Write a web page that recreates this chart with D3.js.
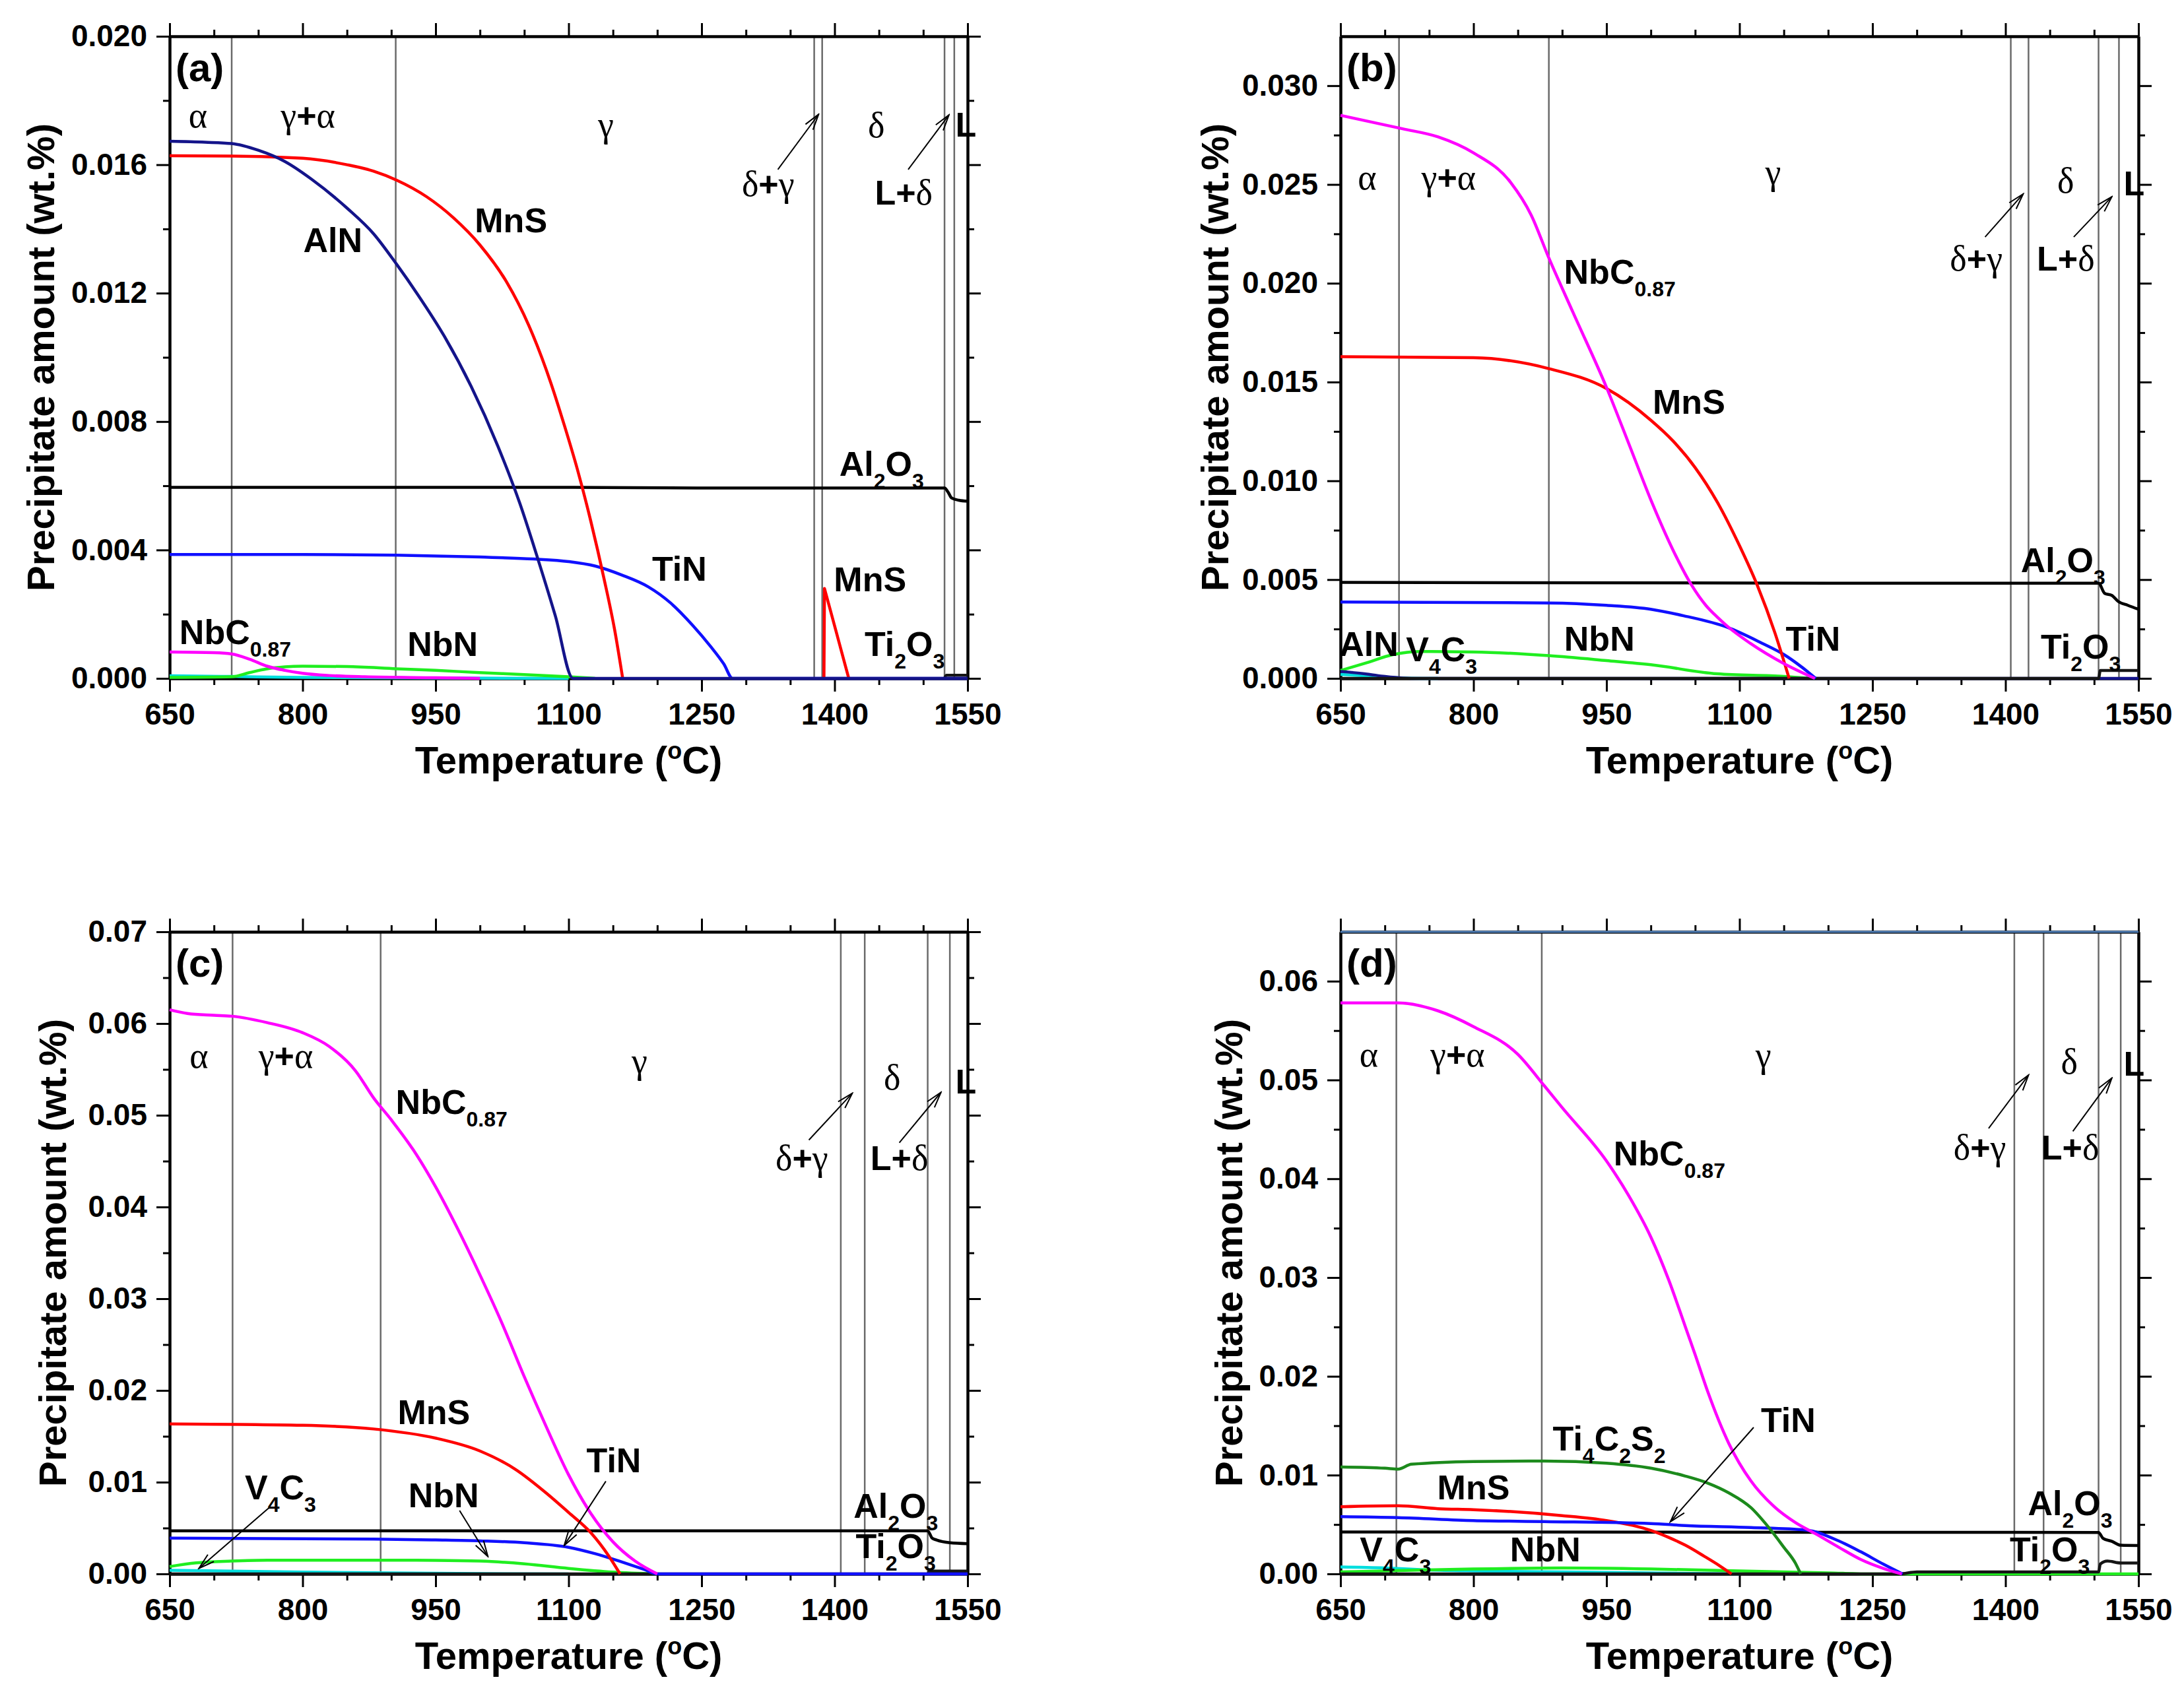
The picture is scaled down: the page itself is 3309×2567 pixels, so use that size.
<!DOCTYPE html>
<html>
<head>
<meta charset="utf-8">
<script src="https://cdnjs.cloudflare.com/ajax/libs/d3/7.8.5/d3.min.js"></script>
<style>
  body { margin: 0; background: #fff; }
  svg { display: block; }
</style>
</head>
<body>
<div id="chart"></div>
<script>
// ---- axis ticks ----
const xMajor = [650, 800, 950, 1100, 1250, 1400, 1550];
const xMinor = [700, 750, 850, 900, 1000, 1050, 1150, 1200, 1300, 1350, 1450, 1500];
const aYTicks = [0, 0.004, 0.008, 0.012, 0.016, 0.020];
const aYMinor = [0.002, 0.006, 0.010, 0.014, 0.018];
const bYTicks = [0, 0.005, 0.010, 0.015, 0.020, 0.025, 0.030];
const bYMinor = [0.0025, 0.0075, 0.0125, 0.0175, 0.0225, 0.0275];
const cYTicks = [0, 0.01, 0.02, 0.03, 0.04, 0.05, 0.06, 0.07];
const cYMinor = [0.005, 0.015, 0.025, 0.035, 0.045, 0.055, 0.065];
const dYTicks = [0, 0.01, 0.02, 0.03, 0.04, 0.05, 0.06];
const dYMinor = [0.005, 0.015, 0.025, 0.035, 0.045, 0.055];

// ---- phase boundaries (°C) ----
const aPhase = [720, 905, 1377, 1386, 1524, 1535];
const bPhase = [716, 885, 1406, 1426, 1505, 1528];
const cPhase = [721, 888, 1407, 1434, 1505, 1530];
const dPhase = [713, 877, 1410, 1443, 1505, 1530];

// ---- panel (a) ----
const aAlN = [[650,0.01673],[690,0.01670],[720,0.01666],[750,0.01645],[780,0.01610],[810,0.01555],[850,0.01465],[880,0.01385],[906,0.01290],[930,0.01195],[960,0.01065],[990,0.00910],[1020,0.00725],[1045,0.00545],[1065,0.00375],[1085,0.00195],[1105,0],[1550,0]];
const aMnS = [[650,0.01628],[720,0.01627],[800,0.01620],[850,0.01600],[880,0.01580],[906,0.01552],[940,0.01500],[970,0.01435],[1000,0.01350],[1030,0.01235],[1055,0.01100],[1080,0.00920],[1095,0.00790],[1110,0.00650],[1125,0.00490],[1140,0.00310],[1152,0.00150],[1161,0]];
const aMnS2 = [[1388,0],[1388.6,0.0028],[1416,0]];
const aTiN = [[650,0.00386],[800,0.00386],[906,0.00384],[1000,0.00378],[1060,0.00372],[1100,0.00364],[1130,0.00350],[1160,0.00322],[1190,0.00285],[1215,0.00235],[1240,0.00165],[1260,0.00100],[1275,0.00045],[1285,0],[1550,0]];
const aAl2O3 = [[650,0.00595],[1100,0.00595],[1250,0.00593],[1524,0.00593],[1528,0.00580],[1532,0.00562],[1540,0.00555],[1550,0.00552]];
const aNbC = [[650,0.00082],[700,0.00080],[720,0.00076],[740,0.00060],[760,0.00038],[780,0.00025],[800,0.00016],[830,0.00009],[870,0.00005],[950,0.00002],[1000,0]];
const aNbN = [[650,0.00003],[720,0.00005],[740,0.00018],[760,0.00030],[780,0.00036],[800,0.00038],[850,0.00037],[906,0.00030],[950,0.00025],[1000,0.00018],[1050,0.00012],[1100,0.00005],[1130,0]];
const aV4C3 = [[650,0.00008],[720,0.00006],[800,0.00003],[1100,0]];
const aTi2O3 = [[1524,0],[1526,0.0001],[1550,0.0001]];

// ---- panel (b) ----
const bNbC = [[650,0.0285],[720,0.02782],[760,0.02741],[800,0.0266],[842,0.0251],[865,0.02346],[885,0.02128],[912,0.01855],[950,0.01473],[975,0.0119],[1000,0.00904],[1025,0.00650],[1046,0.00472],[1062,0.00370],[1075,0.00310],[1086,0.00265],[1112,0.00178],[1150,0.00075],[1185,0]];
const bMnS = [[650,0.01628],[800,0.01623],[885,0.01568],[950,0.01467],[1000,0.01307],[1025,0.01202],[1050,0.01067],[1075,0.00892],[1100,0.00672],[1120,0.00472],[1140,0.00230],[1156,0]];
const bTiN = [[650,0.00387],[885,0.00382],[950,0.00370],[1000,0.0035],[1037,0.00317],[1086,0.00259],[1125,0.00179],[1150,0.00121],[1170,0.00058],[1186,0]];
const bAl2O3 = [[650,0.00486],[1200,0.00482],[1505,0.00482],[1512,0.0043],[1520,0.0042],[1527,0.0039],[1538,0.0037],[1550,0.0035]];
const bTi2O3 = [[650,0],[1505,0],[1507,0.0004],[1550,0.0004]];
const bNbN = [[650,0.0004],[680,0.0008],[709,0.0012],[740,0.00136],[800,0.00134],[885,0.00115],[950,0.0009],[1000,0.00069],[1075,0.00023],[1150,0.0001],[1180,0]];
const bAlN = [[650,0.00035],[680,0.00022],[700,0.0001],[720,0.00002],[740,0],[1550,0]];
const bV4C3 = [[650,0.0002],[690,0.0001],[720,0.00002],[760,0]];

// ---- panel (c) ----
const cNbC = [[650,0.0615],[670,0.0611],[700,0.0609],[720,0.0608],[760,0.0601],[800,0.0590],[830,0.0575],[860,0.0548],[880,0.0519],[900,0.0495],[925,0.0462],[950,0.0422],[975,0.0376],[1000,0.0326],[1025,0.0273],[1050,0.0215],[1075,0.0160],[1100,0.0108],[1125,0.0066],[1150,0.0035],[1175,0.0014],[1200,0]];
const cMnS = [[650,0.01635],[800,0.0162],[880,0.0158],[950,0.0148],[1000,0.0134],[1040,0.0114],[1075,0.0088],[1100,0.0067],[1125,0.0045],[1145,0.0020],[1158,0]];
const cTiN = [[650,0.0039],[880,0.0038],[950,0.0037],[1000,0.0036],[1050,0.0034],[1100,0.0029],[1130,0.0022],[1160,0.0013],[1185,0.0005],[1200,0],[1550,0]];
const cAl2O3 = [[650,0.0047],[1505,0.0047],[1510,0.0039],[1515,0.0037],[1530,0.0034],[1550,0.0033]];
const cTi2O3 = [[650,0],[1505,0],[1507,0.0003],[1550,0.0003]];
const cNbN = [[650,0.0008],[680,0.0012],[720,0.0014],[760,0.0015],[880,0.0015],[950,0.00148],[1000,0.0014],[1050,0.0011],[1100,0.0006],[1150,0.0002],[1200,0]];
const cV4C3 = [[650,0.0004],[720,0.0003],[800,0.0002],[900,0.0001],[1000,0.00003],[1100,0]];

// ---- panel (d) ----
const dNbC = [[650,0.0578],[715,0.0578],[760,0.0570],[800,0.0554],[850,0.0526],[880,0.0494],[900,0.0472],[950,0.0418],[975,0.0383],[1000,0.0341],[1020,0.0298],[1039,0.0250],[1050,0.0222],[1064,0.0185],[1088,0.0132],[1113,0.0094],[1138,0.0069],[1163,0.0052],[1187,0.0040],[1212,0.0027],[1237,0.00145],[1262,0.00056],[1283,0]];
const dTi4C2S2 = [[650,0.01083],[700,0.0107],[715,0.0106],[730,0.0111],[800,0.01138],[880,0.01143],[950,0.0112],[1000,0.0107],[1039,0.0099],[1064,0.0092],[1088,0.0082],[1113,0.0067],[1133,0.0047],[1150,0.0027],[1163,0.0011],[1169,0]];
const dMnS = [[650,0.0068],[715,0.0069],[760,0.0066],[800,0.0065],[900,0.0059],[950,0.0054],[980,0.0049],[1000,0.0044],[1020,0.0037],[1039,0.0029],[1060,0.0018],[1078,0.0008],[1091,0]];
const dTiN = [[650,0.0058],[715,0.0057],[800,0.0054],[880,0.0053],[1000,0.0051],[1039,0.0049],[1113,0.0047],[1175,0.00445],[1212,0.00334],[1237,0.00223],[1262,0.0010],[1284,0]];
const dAl2O3 = [[650,0.00425],[1505,0.0042],[1510,0.0036],[1520,0.0033],[1530,0.0029],[1550,0.00287]];
const dTi2O3 = [[650,0],[1280,0],[1300,0.0002],[1505,0.0002],[1507,0.0010],[1515,0.0013],[1530,0.0011],[1550,0.0011]];
const dNbN = [[650,0.0002],[700,0.0003],[800,0.0005],[900,0.0006],[1000,0.0005],[1100,0.0003],[1200,0.0001],[1250,0],[1550,0]];
const dV4C3 = [[650,0.0007],[700,0.0006],[750,0.0004],[800,0.0003],[900,0.0002],[1000,0.0001],[1100,0]];
const dTop = [[650,0.065],[1550,0.065]];

// ---- annotations: [text, T, wt%] ----
const aLabels = [['AlN',834,0.01367],['MnS',1035,0.01429],['Al{2}O{3}',1453,0.0067],['TiN',1225,0.00343],['MnS',1440,0.0031],['Ti{2}O{3}',1479,0.00109],['NbC{0.87}',724,0.00145],['NbN',958,0.00109]];
const bLabels = [['NbC{0.87}',965,0.0206],['MnS',1043,0.01403],['Al{2}O{3}',1465,0.00601],['TiN',1183,0.00204],['NbN',942,0.00204],['AlN',682,0.00177],['V{4}C{3}',764,0.00150],['Ti{2}O{3}',1485,0.00164]];
const cLabels = [['NbC{0.87}',968,0.0515],['MnS',948,0.0177],['TiN',1151,0.01245],['NbN',959,0.00863],['V{4}C{3}',775,0.0095],['Al{2}O{3}',1469,0.00748],['Ti{2}O{3}',1469,0.0031]];
const dLabels = [['NbC{0.87}',1021,0.0426],['Ti{4}C{2}S{2}',953,0.01376],['TiN',1155,0.01563],['MnS',800,0.00882],['Al{2}O{3}',1473,0.00721],['Ti{2}O{3}',1450,0.00254],['V{4}C{3}',712,0.00254],['NbN',881,0.00254]];

// phase labels: [text, T, wt% at baseline]
const aPhaseLabels = [['α',682,0.01716],['γ+α',806,0.01716],['γ',1142,0.01688],['δ',1447,0.01686],['L',1548,0.01688],['δ+γ',1325,0.01503],['L+δ',1478,0.01476]];
const bPhaseLabels = [['α',680,0.02475],['γ+α',772,0.02475],['γ',1138,0.02502],['δ',1468,0.02458],['L',1545,0.02445],['δ+γ',1367,0.02064],['L+δ',1468,0.02064]];
const cPhaseLabels = [['α',683,0.05518],['γ+α',781,0.05518],['γ',1180,0.0546],['δ',1465,0.0528],['L',1548,0.05237],['δ+γ',1363,0.04403],['L+δ',1473,0.04403]];
const dPhaseLabels = [['α',682,0.05137],['γ+α',782,0.05137],['γ',1127,0.0513],['δ',1472,0.05063],['L',1545,0.05043],['δ+γ',1371,0.04195],['L+δ',1473,0.04195]];

// arrows: [T1, v1, T2, v2]
const aArrows = [[1336,0.01585,1382,0.01757],[1483,0.01585,1529,0.01755]];
const bArrows = [[1377,0.02234,1420,0.02452],[1477,0.02234,1520,0.02438]];
const cArrows = [[1371,0.0473,1420,0.0524],[1473,0.0470,1520,0.0525],[1142,0.0101,1095,0.0031],[977,0.0069,1009,0.0019],[762,0.0072,683,0.0006]];
const dArrows = [[1381,0.0451,1426,0.0505],[1476,0.0448,1520,0.0502],[1116,0.01483,1022,0.00528]];

const COLORS = {
    MnS: '#ff0000', AlN: '#14148a', TiN: '#1010ff', NbC: '#ff00ff', NbN: '#20ee20',
    V4C3: '#00dede', Al2O3: '#000000', Ti2O3: '#151515', Ti4C2S2: '#1c8a1c', top: '#4f7db5'
};

const W = 3309, H = 2567;
const PW = 1209, PH = 973;
const SANS = "'Liberation Sans', Arial, sans-serif";
const SERIF = "'Liberation Serif', 'Times New Roman', serif";

const panels = [
    { tag: '(a)', left: 257, top: 55, ymax: 0.020, yTicks: aYTicks, yMinor: aYMinor, fmt: '.3f', titleGap: 175,
      phases: aPhase, labels: aLabels, phaseLabels: aPhaseLabels, arrows: aArrows,
      series: [
        { d: aV4C3, c: COLORS.V4C3 }, { d: aNbN, c: COLORS.NbN }, { d: aNbC, c: COLORS.NbC },
        { d: aAl2O3, c: COLORS.Al2O3 }, { d: aTi2O3, c: COLORS.Ti2O3 }, { d: aTiN, c: COLORS.TiN },
        { d: aMnS, c: COLORS.MnS }, { d: aMnS2, c: COLORS.MnS, linear: true }, { d: aAlN, c: COLORS.AlN } ] },
    { tag: '(b)', left: 2031, top: 55, ymax: 0.0325, yTicks: bYTicks, yMinor: bYMinor, fmt: '.3f', titleGap: 170,
      phases: bPhase, labels: bLabels, phaseLabels: bPhaseLabels, arrows: bArrows,
      series: [
        { d: bV4C3, c: COLORS.V4C3 }, { d: bNbN, c: COLORS.NbN }, { d: bAlN, c: COLORS.AlN },
        { d: bAl2O3, c: COLORS.Al2O3 }, { d: bTi2O3, c: COLORS.Ti2O3 }, { d: bTiN, c: COLORS.TiN },
        { d: bMnS, c: COLORS.MnS }, { d: bNbC, c: COLORS.NbC } ] },
    { tag: '(c)', left: 257, top: 1412, ymax: 0.07, yTicks: cYTicks, yMinor: cYMinor, fmt: '.2f', titleGap: 157,
      phases: cPhase, labels: cLabels, phaseLabels: cPhaseLabels, arrows: cArrows,
      series: [
        { d: cV4C3, c: COLORS.V4C3 }, { d: cNbN, c: COLORS.NbN }, { d: cAl2O3, c: COLORS.Al2O3 },
        { d: cTi2O3, c: COLORS.Ti2O3 }, { d: cTiN, c: COLORS.TiN }, { d: cMnS, c: COLORS.MnS },
        { d: cNbC, c: COLORS.NbC } ] },
    { tag: '(d)', left: 2031, top: 1412, ymax: 0.065, yTicks: dYTicks, yMinor: dYMinor, fmt: '.2f', titleGap: 149,
      phases: dPhase, labels: dLabels, phaseLabels: dPhaseLabels, arrows: dArrows,
      series: [
        { d: dV4C3, c: COLORS.V4C3 }, { d: dNbN, c: COLORS.NbN }, { d: dAl2O3, c: COLORS.Al2O3 },
        { d: dTi2O3, c: COLORS.Ti2O3 }, { d: dMnS, c: COLORS.MnS }, { d: dTiN, c: COLORS.TiN },
        { d: dTi4C2S2, c: COLORS.Ti4C2S2 }, { d: dNbC, c: COLORS.NbC }, { d: dTop, c: COLORS.top, w: 3, linear: true } ] }
];

const svg = d3.select('#chart').append('svg')
    .attr('width', W).attr('height', H)
    .attr('viewBox', `0 0 ${W} ${H}`);

svg.append('rect').attr('width', W).attr('height', H).attr('fill', '#fff');

svg.append('defs').append('marker')
    .attr('id', 'arrowHead')
    .attr('viewBox', '0 0 28 18')
    .attr('refX', 26).attr('refY', 9)
    .attr('markerWidth', 28).attr('markerHeight', 18)
    .attr('markerUnits', 'userSpaceOnUse')
    .attr('orient', 'auto')
    .append('path')
    .attr('d', 'M2,2 L26,9 L2,16')
    .attr('fill', 'none').attr('stroke', '#000').attr('stroke-width', 2);

// text with {subscript} parts
function richText(sel, str, size, subSize, subDy) {
    const parts = str.split(/(\{[^}]*\})/).filter(s => s.length);
    let down = false;
    parts.forEach(p => {
        if (p.startsWith('{')) {
            sel.append('tspan').attr('font-size', subSize).attr('dy', down ? 0 : subDy).text(p.slice(1, -1));
            down = true;
        } else {
            sel.append('tspan').attr('font-size', size).attr('dy', down ? -subDy : 0).text(p);
            down = false;
        }
    });
}

function phaseText(sel, str) {
    for (const ch of str) {
        const greek = /[αγδ]/.test(ch);
        sel.append('tspan')
            .attr('font-family', greek ? SERIF : SANS)
            .attr('font-weight', greek ? 'normal' : 'bold')
            .attr('font-size', greek ? 54 : 52)
            .text(ch);
    }
}

function drawPanel(p) {
    const x = d3.scaleLinear().domain([650, 1550]).range([0, PW]);
    const y = d3.scaleLinear().domain([0, p.ymax]).range([PH, 0]);
    const g = svg.append('g').attr('transform', `translate(${p.left},${p.top})`);

    // phase boundaries
    g.selectAll('.phase').data(p.phases).enter().append('line')
        .attr('x1', d => x(d)).attr('x2', d => x(d))
        .attr('y1', 0).attr('y2', PH)
        .attr('stroke', '#6a6a6a').attr('stroke-width', 2.5);

    // axes
    const styleAxis = (a) => {
        a.selectAll('.domain').attr('stroke', '#000').attr('stroke-width', 4);
        a.selectAll('.tick line').attr('stroke', '#000').attr('stroke-width', 3);
        a.selectAll('text').attr('font-family', SANS).attr('font-weight', 'bold')
            .attr('font-size', 46).attr('fill', '#000');
    };
    const mk = (axis, scale, vals, size, fmt, pad) =>
        axis(scale).tickValues(vals).tickSize(size).tickSizeOuter(0).tickPadding(pad || 4)
            .tickFormat(fmt ? d3.format(fmt) : '');

    g.append('g').attr('transform', `translate(0,${PH})`).call(mk(d3.axisBottom, x, xMinor, 10)).call(styleAxis);
    g.append('g').attr('transform', `translate(0,${PH})`).call(mk(d3.axisBottom, x, xMajor, 20, 'd', 17)).call(styleAxis);
    g.append('g').call(mk(d3.axisTop, x, xMinor, 10)).call(styleAxis);
    g.append('g').call(mk(d3.axisTop, x, xMajor, 20)).call(styleAxis);
    g.append('g').call(mk(d3.axisLeft, y, p.yMinor, 10)).call(styleAxis);
    g.append('g').call(mk(d3.axisLeft, y, p.yTicks, 20, p.fmt, 14)).call(styleAxis);
    g.append('g').attr('transform', `translate(${PW},0)`).call(mk(d3.axisRight, y, p.yMinor, 10)).call(styleAxis);
    g.append('g').attr('transform', `translate(${PW},0)`).call(mk(d3.axisRight, y, p.yTicks, 20)).call(styleAxis);

    // curves
    p.series.forEach(s => {
        const line = d3.line()
            .x(d => x(d[0])).y(d => y(d[1]))
            .curve(s.linear ? d3.curveLinear : d3.curveMonotoneX);
        g.append('path').datum(s.d)
            .attr('d', line)
            .attr('fill', 'none')
            .attr('stroke', s.c)
            .attr('stroke-width', s.w || 4.5)
            .attr('stroke-linejoin', 'round');
    });

    // arrows
    g.selectAll('.arrow').data(p.arrows).enter().append('line')
        .attr('x1', d => x(d[0])).attr('y1', d => y(d[1]))
        .attr('x2', d => x(d[2])).attr('y2', d => y(d[3]))
        .attr('stroke', '#000').attr('stroke-width', 2)
        .attr('marker-end', 'url(#arrowHead)');

    // phase labels
    p.phaseLabels.forEach(([t, tx, ty]) => {
        const txt = g.append('text')
            .attr('x', x(tx)).attr('y', y(ty))
            .attr('text-anchor', 'middle');
        phaseText(txt, t);
    });

    // species labels
    p.labels.forEach(([t, tx, ty]) => {
        const txt = g.append('text')
            .attr('x', x(tx)).attr('y', y(ty) + 19)
            .attr('text-anchor', 'middle')
            .attr('font-family', SANS).attr('font-weight', 'bold').attr('fill', '#000');
        richText(txt, t, 52, 32, 19);
    });

    // panel tag
    g.append('text')
        .attr('x', 9).attr('y', 68)
        .attr('font-family', SANS).attr('font-weight', 'bold').attr('font-size', 60)
        .text(p.tag);

    // axis titles
    const xt = g.append('text')
        .attr('x', PW / 2).attr('y', PH + 144)
        .attr('text-anchor', 'middle')
        .attr('font-family', SANS).attr('font-weight', 'bold').attr('font-size', 58);
    xt.append('tspan').text('Temperature (');
    xt.append('tspan').attr('font-size', 36).attr('dy', -22).text('o');
    xt.append('tspan').attr('dy', 22).text('C)');

    g.append('text')
        .attr('transform', `translate(${-p.titleGap},${PH / 2}) rotate(-90)`)
        .attr('text-anchor', 'middle')
        .attr('font-family', SANS).attr('font-weight', 'bold').attr('font-size', 58)
        .text('Precipitate amount (wt.%)');
}

panels.forEach(drawPanel);
</script>
</body>
</html>
